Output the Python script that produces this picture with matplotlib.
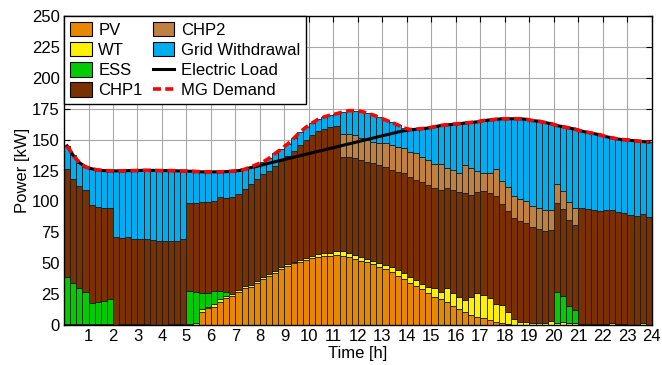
import matplotlib
matplotlib.use("Agg")
import matplotlib.pyplot as plt
from matplotlib.patches import Patch
from matplotlib.lines import Line2D
import numpy as np

plt.rcParams['font.family'] = ['Liberation Sans', 'DejaVu Sans']
plt.rcParams['font.size'] = 12

# 15-minute resolution over one day (96 intervals)
pv = [0, 0, 0, 0, 0, 0, 0, 0,
      0, 0, 0, 0, 0, 0, 0, 0, 0, 0, 0, 0,
      0, 0, 10.8, 13.5, 14.8, 18.9, 21.6, 23.5,
      27, 29.7, 31, 34.2, 37.2, 39.6, 42.3, 45.3, 48, 49.9, 51.2, 52.6,
      53.9, 55.3, 55.8, 55.8, 56.6, 56.1, 54.7, 53.4, 52, 50.7, 49, 47.2,
      45.3, 42.6, 39.9, 37.2, 34.2, 31.6, 28.9, 26.2, 22.9, 20.8, 18.9, 15.4,
      12.7, 10.8, 8.1, 6.7, 5.4, 4, 2.7, 1.5, 0.8, 0, 0, 0,
      0, 0, 0, 0, 0, 0, 0, 0, 0, 0, 0, 0, 0, 0, 0, 0, 0, 0, 0, 0]
wt = [1.2, 1.2, 1.2, 1.2, 0.5, 0.5, 0.5, 0.5,
      0, 0.8, 1, 1, 1, 0.5, 0, 0, 0, 0.8, 1, 1,
      1, 2, 1.9, 1.3, 1.9, 2.1, 1.9, 1.8,
      1.5, 1.5, 1.5, 1.5, 1.5, 1.5, 1.5, 1.5, 1.5, 1.5, 1.8, 2,
      2.2, 2.5, 2.5, 2.8, 3.5, 3.5, 3.5, 3, 3, 3, 3, 3,
      3.5, 4, 4.5, 5, 4.5, 4.5, 4.5, 4.5, 6.8, 6.2, 10.8, 10.2,
      10.2, 9.4, 14.8, 18.9, 18.9, 17.6, 14.3, 14.7, 10, 4.6, 2.7, 2.7,
      1.3, 1.3, 1.3, 3.2, 1.9, 2.7, 1.9, 1.3, 1, 1, 1, 1, 1, 1.5, 0.5, 0.5, 0, 0, 1.5, 0]
ess = [37.8, 32.5, 28.8, 25.8, 17.5, 18.1, 19.2, 20.8,
       0, 0, 0, 0, 0, 0, 0, 0, 0, 0, 0, 0,
       26.5, 24.4, 13.5, 10.8, 11.1, 6.5, 3.5, 0,
       0, 0, 0, 0, 0, 0, 0, 0, 0, 0, 0, 0,
       0, 0, 0, 0, 0, 0, 0, 0, 0, 0, 0, 0,
       0, 0, 0, 0, 0, 0, 0, 0, 0, 0, 0, 0,
       0, 0, 0, 0, 0, 0, 0, 0, 0, 0, 0, 0,
       0, 0, 0, 0, 24.5, 20.8, 13.5, 10.8, 0, 0, 0, 0, 0, 0, 0, 0, 0, 0, 0, 0]
chp1 = [87, 84.3, 82.7, 82, 79, 77.1, 75.3, 73.7,
        71.5, 69.9, 69.9, 68.3, 68.3, 68.8, 68.8, 68.2, 68.2, 67.4, 67.2, 68.3,
        70.9, 72, 73, 74.2, 72.5, 75.8, 75.5, 78.5,
        77.5, 78.6, 81.5, 82.3, 83.3, 83.9, 85.2, 86.2, 87.5, 89.6, 93, 95.4,
        97.9, 99.2, 100.7, 101.9, 100.9, 76.6, 77.8, 78.4, 78.5, 78.3, 78.8, 79.3,
        79.3, 78.8, 79.7, 80.5, 81.3, 81.2, 82.6, 82.6, 81.3, 82, 81.3, 83.4,
        85.1, 86.3, 82.1, 82.4, 84.2, 84.9, 87.5, 81.7, 81.4, 81.7, 81.4, 79.6,
        77.7, 76.1, 74.7, 73.7, 72, 70.1, 69.6, 68.8, 93.9, 92.6, 92, 91.5,
        92, 91.5, 91.2, 90.4, 89, 88.5, 88, 87.6]
chp2 = [0, 0, 0, 0, 0, 0, 0, 0,
        0, 0, 0, 0, 0, 0, 0, 0, 0, 0, 0, 0,
        0, 0, 0, 0, 0, 0, 0, 0,
        0, 0, 0, 0, 0, 0, 0, 0, 0, 0, 0, 0,
        0, 0, 0, 0, 0, 18.8, 19, 18.9, 18, 17.7, 17.5, 18,
        18.9, 20.2, 20.2, 20.2, 20.2, 21.6, 20.2, 20.2, 19, 21, 16.3, 16.4,
        15.2, 22.9, 22.3, 16.9, 14.2, 16.7, 21.5, 18.6, 19.2, 18.3, 18.1, 18,
        17.5, 17.5, 16.8, 15.9, 15.4, 14.8, 14.2, 13.5, 0, 0, 0, 0,
        0, 0, 0, 0, 0, 0, 0, 0]
grid = [19, 19.5, 18.8, 19, 29.5, 29.8, 30, 29.8,
        53.3, 54.1, 54.1, 55.7, 55.9, 55.9, 56.4, 56.8, 56.8, 56.8, 56.6, 55.3,
        26.1, 25.9, 24.8, 24.2, 23.7, 20.7, 21.7, 20.7,
        19, 16.2, 14, 12, 10, 10, 10, 9.5, 9.5, 10, 10, 10,
        9.5, 9.5, 9.5, 9.5, 10, 17.5, 18.5, 19.8, 21.5, 21.8, 21.7, 20.5,
        19, 18.4, 17.7, 16.6, 18.1, 19.6, 22.8, 26, 30.5, 31.5, 34.7, 37.1,
        39.8, 34.1, 36.7, 39.6, 42.8, 42.8, 40.5, 50.5, 55.6, 62.4, 64.8, 66.2,
        69, 70.1, 71.2, 70.2, 47.7, 52.1, 60.3, 64.1, 62.1, 62.4, 62, 61.5,
        59.5, 58.5, 58.8, 59.1, 60.5, 60.5, 59, 60.4]
mg_demand = [145, 137.5, 131.5, 128, 126.5, 125.5, 125, 124.8,
             124.8, 124.8, 125, 125, 125.2, 125.2, 125.2, 125, 125, 125, 124.8, 124.6,
             124.5, 124.3, 124, 124, 124, 124, 124.2, 124.5,
             125, 126, 128, 130, 132, 135, 139, 142.5, 146.5, 151, 156, 160,
             163.5, 166.5, 168.5, 170, 171, 172.5, 173.5, 173.5, 173, 171.5, 170, 168,
             166, 164, 162, 159.5, 158.3, 158.5, 159, 159.5, 160.5, 161.5, 162, 162.5,
             163, 163.5, 164, 164.5, 165.5, 166, 166.5, 167, 167, 167, 167, 166.5,
             165.5, 165, 164, 163, 161.5, 160.5, 159.5, 158.5, 157, 156, 155, 154,
             152.5, 151.5, 150.5, 150, 149.5, 149, 148.5, 148]
electric_load = [145, 137.5, 131.5, 128, 126.5, 125.5, 125, 124.8,
                 124.8, 124.8, 125, 125, 125.2, 125.2, 125.2, 125, 125, 125, 124.8, 124.6,
                 124.5, 124.3, 124, 124, 124, 124, 124.2, 124.5,
                 125, 126, 127.5, 128.5, 129.8, 131, 132.2, 133.4, 134.6, 135.8, 137, 138.2,
                 139.4, 140.6, 141.8, 143, 144.2, 145.4, 146.6, 147.8, 149, 150.2, 151.4, 152.6,
                 153.8, 155, 156.2, 157.2, 158, 158.5, 159, 159.5, 160.5, 161.5, 162, 162.5,
                 163, 163.5, 164, 164.5, 165.5, 166, 166.5, 167, 167, 167, 167, 166.5,
                 165.5, 165, 164, 163, 161.5, 160.5, 159.5, 158.5, 157, 156, 155, 154,
                 152.5, 151.5, 150.5, 150, 149.5, 149, 148.5, 148]

hour_ticks = list(range(1, 25))
power_ticks = list(range(0, 251, 25))

series = [
    ("PV", pv, "#E88800"),
    ("WT", wt, "#FFF200"),
    ("ESS", ess, "#00CC00"),
    ("CHP1", chp1, "#7A3000"),
    ("CHP2", chp2, "#BF8040"),
    ("Grid Withdrawal", grid, "#00ADEF"),
]

step = 0.25
t = step / 2 + step * np.arange(len(pv))

fig = plt.figure(figsize=(6.62, 3.65), dpi=100)
ax = fig.add_axes([0.0967, 0.1096, 0.888, 0.846])
ax.set_axisbelow(True)
ax.grid(True, color="#a8a8a8", linewidth=0.8)

bottom = np.zeros(len(pv))
handles = []
for name, vals, col in series:
    v = np.asarray(vals, dtype=float)
    ax.bar(t, v, width=step, bottom=bottom, color=col, edgecolor="#1a1a1a",
           linewidth=0.6, zorder=2)
    bottom = bottom + v
    handles.append(Patch(facecolor=col, edgecolor="k", linewidth=0.8, label=name))

ax.plot(t, electric_load, color="k", linewidth=2.2, zorder=3)
ax.plot(t, mg_demand, color="#FF0000", linewidth=2.6, dashes=(2.2, 1.2), zorder=4)
handles.append(Line2D([], [], color="k", linewidth=2.2, label="Electric Load"))
handles.append(Line2D([], [], color="#FF0000", linewidth=2.6, dashes=(2.2, 1.2),
                      label="MG Demand"))

ax.set_xlim(0, 24)
ax.set_ylim(0, 250)
ax.set_xticks(hour_ticks)
ax.set_yticks(power_ticks)
ax.tick_params(direction="in", top=True, right=True, length=4, pad=3)
ax.set_xlabel("Time [h]", labelpad=1)
ax.set_ylabel("Power [kW]", labelpad=1.5)
for s in ax.spines.values():
    s.set_linewidth(1.0)

leg = ax.legend(handles=handles, loc="upper left", ncol=2, frameon=True,
                fancybox=False, edgecolor="k", framealpha=1, borderaxespad=0,
                handlelength=1.3, handleheight=0.95, handletextpad=0.4,
                columnspacing=0.6, labelspacing=0.25, borderpad=0.35)
leg.get_frame().set_linewidth(1.0)
leg.set_zorder(5)

fig.savefig("out.png", dpi=100)
